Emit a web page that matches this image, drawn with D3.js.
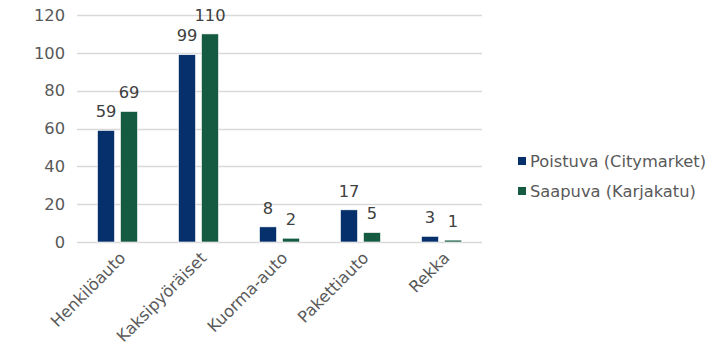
<!DOCTYPE html>
<html><head><meta charset="utf-8">
<script src="https://cdn.jsdelivr.net/npm/d3@7"></script>
<style>body{margin:0;background:#fff}svg{display:block}text{font-family:"DejaVu Sans",Verdana,sans-serif;fill:#595959}</style>
</head><body><svg id="c" width="726" height="352"></svg>
<script>
const categories = ["Henkilöauto","Kaksipyöräiset","Kuorma-auto","Pakettiauto","Rekka"];
const seriesNames = ["Poistuva (Citymarket)","Saapuva (Karjakatu)"];
const poistuva = [59,99,8,17,3];
const saapuva = [69,110,2,5,1];
const yTicks = [0,20,40,60,80,100,120];
const colors = ["#06306B","#145B41"];
const values = [poistuva, saapuva];

const svg = d3.select("#c");
const pLeft = 77, pRight = 482, pTop = 15, pBottom = 242;
const x0 = d3.scaleBand().domain(categories).range([pLeft,pRight]);
const x1 = d3.scaleBand().domain(seriesNames).range([0,40]).paddingInner(0.26);
const y = d3.scaleLinear().domain([0,120]).range([pBottom,pTop]);

// gridlines
svg.append("g").selectAll("line").data(yTicks).join("line")
  .attr("x1",pLeft).attr("x2",pRight)
  .attr("y1",d=>Math.round(y(d))+0.5).attr("y2",d=>Math.round(y(d))+0.5)
  .attr("stroke","#D9D9D9").attr("stroke-width",1.5);

// y tick labels
svg.append("g").selectAll("text").data(yTicks).join("text")
  .attr("x",65).attr("y",d=>y(d)).attr("dy","0.35em")
  .attr("text-anchor","end").attr("font-size",16.3).text(d=>d);

// bars
seriesNames.forEach((s,si)=>{
  const g = svg.append("g");
  g.selectAll("rect").data(categories).join("rect")
    .attr("x",c=>x0(c)+x0.bandwidth()/2-20+x1(s))
    .attr("width",x1.bandwidth())
    .attr("y",(c,i)=>y(values[si][i]))
    .attr("height",(c,i)=>pBottom-y(values[si][i]))
    .attr("fill",colors[si]).attr("stroke","#fff").attr("stroke-width",0.6);
  g.selectAll("text").data(categories).join("text")
    .attr("x",c=>x0(c)+x0.bandwidth()/2-20+x1(s)+x1.bandwidth()/2)
    .attr("y",(c,i)=>y(values[si][i])-19)
    .attr("dy","0.35em")
    .attr("text-anchor","middle").attr("font-size",16.3)
    .style("fill","#404040")
    .text((c,i)=>values[si][i]);
});

// x labels
svg.append("g").selectAll("text").data(categories).join("text")
  .attr("transform",c=>`translate(${x0(c)+x0.bandwidth()/2+5},255) rotate(-45)`)
  .attr("text-anchor","end").attr("dy","0.35em").attr("font-size",16.3).text(c=>c);

// legend
const lg = svg.append("g");
seriesNames.forEach((s,i)=>{
  const yy = 161 + i*30;
  lg.append("rect").attr("x",518).attr("y",yy-4).attr("width",8).attr("height",8).attr("fill",colors[i]);
  lg.append("text").attr("x",530).attr("y",yy).attr("dy","0.35em").attr("font-size",16.3).text(s);
});
</script></body></html>
